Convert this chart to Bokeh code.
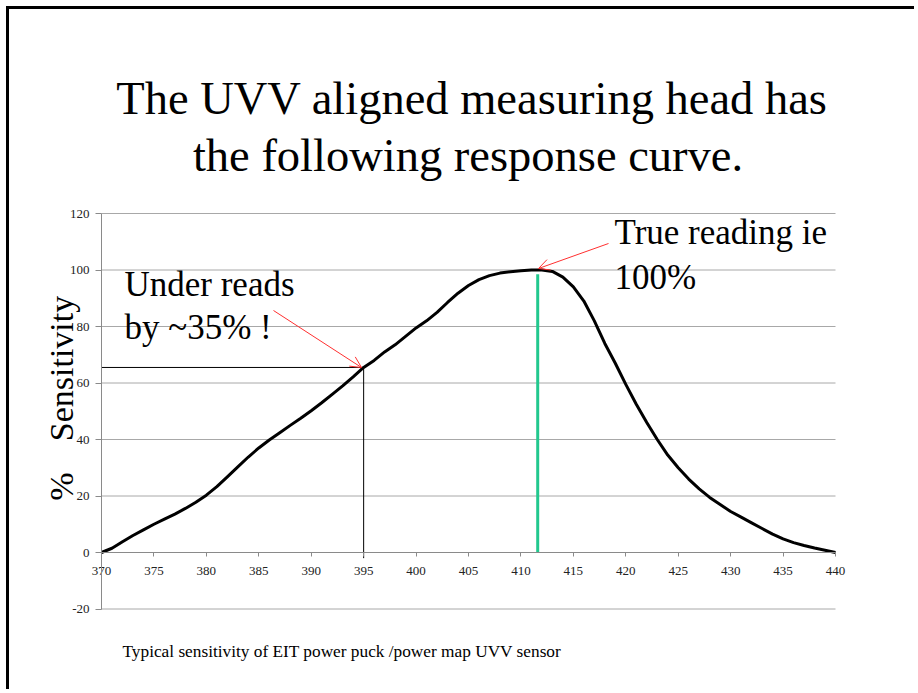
import math
from bokeh.plotting import figure
from bokeh.models import Range1d, FixedTicker, Label, Arrow, OpenHead
from bokeh.embed import file_html
from bokeh.resources import INLINE

# ---- data ----
wavelength = [370, 371, 372, 373, 374, 375, 376, 377, 378, 379, 380, 381, 382, 383, 384,
              385, 386, 387, 388, 389, 390, 391, 392, 393, 394, 395, 396, 397, 398, 399,
              400, 401, 402, 403, 404, 405, 406, 407, 408, 409, 410, 411, 412, 413, 414,
              415, 416, 417, 418, 419, 420, 421, 422, 423, 424, 425, 426, 427, 428, 429,
              430, 431, 432, 433, 434, 435, 436, 437, 438, 439, 440]
sensitivity = [0, 1.5, 3.8, 6, 8, 10, 11.8, 13.6, 15.6, 17.8, 20.3, 23.3, 26.8, 30.3, 33.8,
               37, 39.8, 42.4, 45, 47.5, 50.2, 53, 56, 59, 62.2, 65.5, 68, 71, 73.5, 76.5,
               79.5, 82, 85, 88.5, 91.8, 94.5, 96.6, 98, 98.9, 99.4, 99.7, 100, 100, 99.5, 97.5,
               94, 89, 82, 74, 67, 59.5, 52.5, 46, 40, 34.5, 30, 26, 22.5, 19.5, 17,
               14.5, 12.5, 10.5, 8.5, 6.5, 4.8, 3.5, 2.5, 1.6, 0.8, 0]

x_ticks = [370, 375, 380, 385, 390, 395, 400, 405, 410, 415, 420, 425, 430, 435, 440]
y_ticks = [-20, 0, 20, 40, 60, 80, 100, 120]
y_tick_labels = ["-20", "0", "20", "40", "60", "80", "100", "120"]

under_x, under_y = 395, 65.5          # under-reading point
peak_x, peak_y = 411.6, 98.5          # true-reading (green) line

title_lines = ["The UVV aligned measuring head has", "the following response curve."]
under_text = ["Under reads", "by ~35% !"]
true_text = ["True reading ie", "100%"]
footer = "Typical sensitivity of EIT power puck /power map UVV sensor"

SERIF = "Liberation Serif"

# ---- layout (page pixels) ----
CANVAS_X0, CANVAS_Y0 = 9, 9           # canvas origin on the page (margin 6 + border 3)
W, H = 908, 683
X_LEFT_PX, X_RIGHT_PX = 101, 835      # 370 and 440
Y_TOP_PX, Y_ZERO_PX = 213, 552        # 120 and 0
XS = (X_RIGHT_PX - X_LEFT_PX) / (x_ticks[-1] - x_ticks[0])
YS = (Y_ZERO_PX - Y_TOP_PX) / 120.0
BASE_SHIFT = 0.36                     # baseline correction (fraction of font size)


def dx(px):
    return x_ticks[0] + (px - X_LEFT_PX) / XS


def dy(py):
    return (Y_ZERO_PX - py) / YS


x_start = dx(CANVAS_X0)
x_end = dx(CANVAS_X0 + W)
y_end = dy(CANVAS_Y0)
y_start = dy(CANVAS_Y0 + H)

p = figure(width=W, height=H, output_backend="svg", toolbar_location=None,
           x_range=Range1d(x_start, x_end), y_range=Range1d(y_start, y_end),
           min_border=0)
p.styles = {"margin-left": "6px", "margin-top": "6px",
            "border-top": "3px solid black", "border-left": "3px solid black"}
p.outline_line_color = None
p.background_fill_color = "white"
p.border_fill_color = "white"
p.xgrid.visible = False
p.ygrid.visible = False

# horizontal gridlines limited to the plot area
p.segment(x0=[x_ticks[0]] * len(y_ticks), x1=[x_ticks[-1]] * len(y_ticks),
          y0=y_ticks, y1=y_ticks, line_color="#a8a8a8", line_width=1)

# y axis at x = 370
p.yaxis.ticker = FixedTicker(ticks=y_ticks)
p.yaxis.major_label_overrides = dict(zip(y_ticks, y_tick_labels))
p.yaxis.fixed_location = x_ticks[0]
p.yaxis.bounds = (y_ticks[0], y_ticks[-1])
p.yaxis.axis_line_color = "#8a8a8a"
p.yaxis.major_tick_line_color = "#8a8a8a"
p.yaxis.major_tick_out = 6
p.yaxis.major_tick_in = 0
p.yaxis.minor_tick_line_color = None
p.yaxis.major_label_text_font = SERIF
p.yaxis.major_label_text_font_size = "13px"
p.yaxis.major_label_text_color = "#222222"
p.yaxis.major_label_standoff = 6

# x axis at y = 0
p.xaxis.ticker = FixedTicker(ticks=x_ticks)
p.xaxis.fixed_location = 0
p.xaxis.bounds = (x_ticks[0], x_ticks[-1])
p.xaxis.axis_line_color = "#8a8a8a"
p.xaxis.major_tick_line_color = "#8a8a8a"
p.xaxis.major_tick_out = 4
p.xaxis.major_tick_in = 0
p.xaxis.minor_tick_line_color = None
p.xaxis.major_label_text_font = SERIF
p.xaxis.major_label_text_font_size = "13px"
p.xaxis.major_label_text_color = "#222222"
p.xaxis.major_label_standoff = 10

# reference lines
p.line([x_ticks[0], under_x], [under_y, under_y], line_color="black", line_width=1)
p.line([under_x, under_x], [under_y, -2], line_color="black", line_width=1)
p.line([peak_x, peak_x], [0, peak_y], line_color="#22c88e", line_width=3)

# response curve
p.line(wavelength, sensitivity, line_color="black", line_width=3)

# arrows
p.add_layout(Arrow(end=OpenHead(size=11, line_color="#ff3030", line_width=1),
                   x_start=dx(273), y_start=dy(310), x_end=dx(361), y_end=dy(367),
                   line_color="#ff3030", line_width=1))
p.add_layout(Arrow(end=OpenHead(size=11, line_color="#ff3030", line_width=1),
                   x_start=dx(608), y_start=dy(243), x_end=dx(538), y_end=dy(268),
                   line_color="#ff3030", line_width=1))


def lab(px, py, t, size, align="left", angle=0.0):
    shift = BASE_SHIFT * size
    if angle:
        px -= shift
    else:
        py -= shift
    p.add_layout(Label(x=dx(px), y=dy(py), text=t, text_font=SERIF,
                       text_font_size=f"{size}px",
                       text_color="black", text_align=align, text_baseline="alphabetic",
                       angle=angle))


# title
lab(471.5, 115, title_lines[0], 46.5, "center")
lab(467.5, 172, title_lines[1], 46.5, "center")

# annotations
lab(124, 297, under_text[0], 35)
lab(124, 340, under_text[1], 35)
lab(614, 245, true_text[0], 35)
lab(614, 290, true_text[1], 35)

# y-axis label
lab(73, 368, "Sensitivity", 34, "center", math.pi / 2)
lab(73, 486, "%", 34, "center", math.pi / 2)

# footer
lab(122, 657, footer, 17.3)

open("out.html", "w").write(file_html(p, INLINE))
